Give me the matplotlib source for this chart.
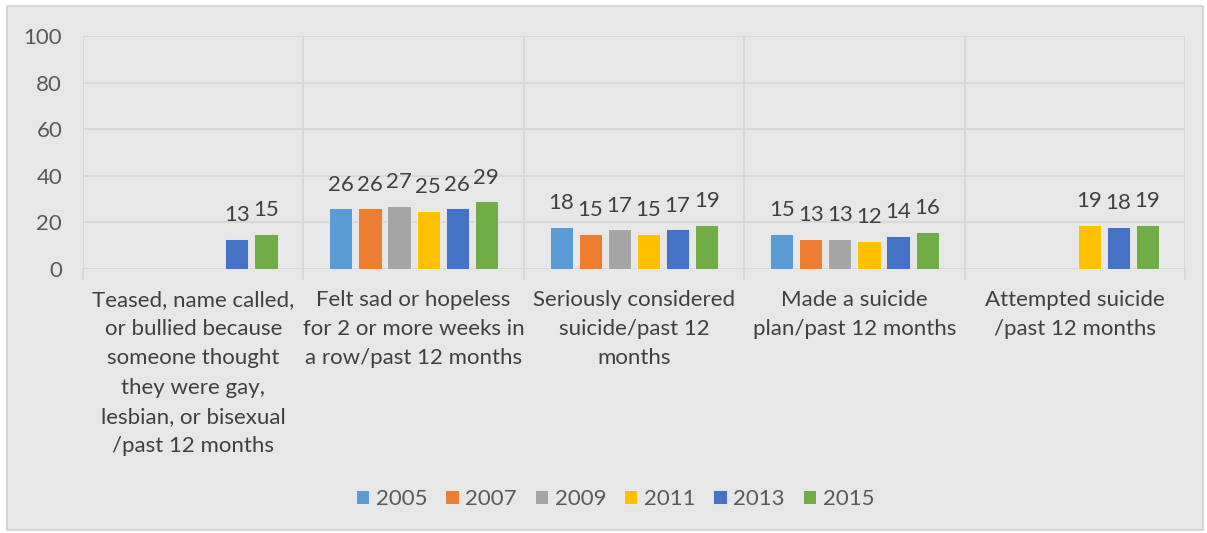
import numpy as np
import matplotlib.pyplot as plt
from matplotlib.patches import Rectangle

plt.rcParams['font.family'] = ['Lato', 'DejaVu Sans']

# ---------------------------------------------------------
# Data
# ---------------------------------------------------------
categories = [
    "Teased, name called,\nor bullied because\nsomeone thought\nthey were gay,\nlesbian, or bisexual\n/past 12 months",
    "Felt sad or hopeless\nfor 2 or more weeks in\na row/past 12 months",
    "Seriously considered\nsuicide/past 12\nmonths",
    "Made a suicide\nplan/past 12 months",
    "Attempted suicide\n/past 12 months",
]
years = ["2005", "2007", "2009", "2011", "2013", "2015"]
v2005 = [np.nan, 26, 18, 15, np.nan]
v2007 = [np.nan, 26, 15, 13, np.nan]
v2009 = [np.nan, 27, 17, 13, np.nan]
v2011 = [np.nan, 25, 15, 12, 19]
v2013 = [13, 26, 17, 14, 18]
v2015 = [15, 29, 19, 16, 19]
series = [v2005, v2007, v2009, v2011, v2013, v2015]
colors = ["#5B9BD5", "#ED7D31", "#A5A5A5", "#FFC000", "#4472C4", "#70AD47"]

bg = "#e7e7e7"
grid_c = "#d6d6d6"
fs = 16

# ---------------------------------------------------------
# Plot
# ---------------------------------------------------------
fig = plt.figure(figsize=(12.07, 5.33), dpi=100)
fig.patch.set_facecolor("white")
fig.patches.append(Rectangle((7 / 1207, 3 / 533), 1196 / 1207, 524 / 533,
                             transform=fig.transFigure, facecolor=bg,
                             edgecolor="#d0d0d0", linewidth=1.2, zorder=-5))

ax = fig.add_axes([83 / 1207, 1 - 269 / 533, 1102 / 1207, 233 / 533])
ax.set_facecolor(bg)

x = np.arange(len(categories))
slot = 0.132
width = 0.105
for i, (yr, vals, c) in enumerate(zip(years, series, colors)):
    pos = x + (i - 2.5) * slot
    bars = ax.bar(pos, vals, width, color=c, edgecolor="#f0f0f0",
                  linewidth=0.6, label=yr, zorder=3)
    labels = ["" if np.isnan(v) else f"{v:.0f}" for v in vals]
    ax.bar_label(bars, labels=labels, padding=10, fontsize=fs,
                 color="#404040")

ax.set_xlim(-0.5, len(categories) - 0.5)
ax.set_ylim(0, 100)
ax.set_yticks(range(0, 101, 20))
ax.tick_params(axis="y", length=0, labelsize=fs, labelcolor="#595959", pad=15)

ax.set_xticks(x)
ax.set_xticklabels(categories, fontsize=fs, color="#404040", linespacing=1.58,
                   va="top")
ax.tick_params(axis="x", which="major", length=0, pad=15)
ax.set_xticks(np.arange(-0.5, len(categories)), minor=True)
ax.tick_params(axis="x", which="minor", length=8, color=grid_c, width=1.2)

ax.grid(axis="y", color=grid_c, linewidth=1.2, zorder=0)
ax.grid(axis="x", which="minor", color=grid_c, linewidth=1.2, zorder=0)
ax.set_axisbelow(True)
for s in ax.spines.values():
    s.set_visible(False)

fig.legend(loc="center", bbox_to_anchor=(615 / 1207, 1 - 499 / 533), ncol=6,
           frameon=False, fontsize=fs, labelcolor="#595959",
           handlelength=0.6, handleheight=0.6, handletextpad=0.3,
           columnspacing=0.8)

fig.savefig("out.png", dpi=100, facecolor=fig.get_facecolor())
